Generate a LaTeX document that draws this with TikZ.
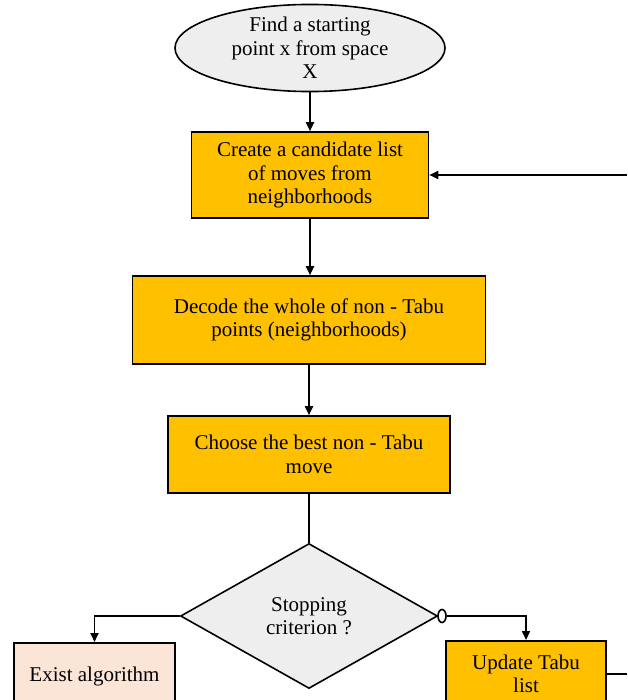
\documentclass[tikz,border=0pt]{standalone}
\usepackage{fontspec}
\setmainfont{Liberation Serif}
\usetikzlibrary{shapes.geometric,arrows.meta}
\definecolor{procfill}{HTML}{FFC000}
\definecolor{startfill}{HTML}{EEEEEE}
\definecolor{exitfill}{HTML}{FBE5D6}
\begin{document}
\begin{tikzpicture}[x=1pt,y=-1pt,
  every node/.style={font=\fontsize{21}{23.5}\selectfont, align=center, inner sep=0pt},
  procbox/.style={draw, line width=1.6pt, fill=procfill, rectangle},
  startshape/.style={draw, line width=1.6pt, fill=startfill, ellipse},
  decision/.style={draw, line width=1.6pt, fill=startfill, diamond},
  exitbox/.style={draw, line width=1.6pt, fill=exitfill, rectangle},
  flow/.style={line width=1.8pt, -{Triangle[length=9pt,width=8pt]}},
  plainflow/.style={line width=1.8pt}]
\useasboundingbox (0,0) rectangle (627,700);
\clip (0,0) rectangle (627,700);

% start
\node[startshape, minimum width=270, minimum height=87] (start) at (310,48)
  {Find a starting\\point x from space\\X};

% process steps
\node[procbox, minimum width=237, minimum height=86] (cand) at (310,175)
  {Create a candidate list\\of moves from\\neighborhoods};
\node[procbox, minimum width=353, minimum height=88] (decode) at (309,320)
  {Decode the whole of non - Tabu\\points (neighborhoods)};
\node[procbox, minimum width=282, minimum height=77] (choose) at (309,454.5)
  {Choose the best non - Tabu\\move};

% stopping test
\node[decision, minimum width=257, minimum height=145] (stop) at (309,616)
  {Stopping\\criterion ?};

% outcomes
\node[exitbox, minimum width=161, minimum height=68, anchor=north] (exit) at (94.5,642)
  {Exist algorithm};
\node[procbox, minimum width=160, minimum height=66, anchor=north] (update) at (526,640)
  {Update Tabu\\list};

% connectors
\draw[flow] (start.south) -- (start.south |- cand.north);
\draw[flow] (cand.south) -- (cand.south |- decode.north);
\draw[flow] (decode.south) -- (decode.south |- choose.north);
\draw[plainflow] (choose.south) -- (stop.north);

\draw[flow] (stop.west) -| (exit.north);

\node[draw, ellipse, line width=1.6pt, fill=white, minimum width=8, minimum height=13] (tail) at (442,616) {};
\draw[flow] (tail.east) -| (update.north);

% loop back to the candidate list along the right edge
\coordinate (rightedge) at (627,0);
\draw[plainflow] (update.east) -- (update.east -| rightedge);
\draw[flow] (cand.east -| rightedge) -- (cand.east);
\end{tikzpicture}
\end{document}
